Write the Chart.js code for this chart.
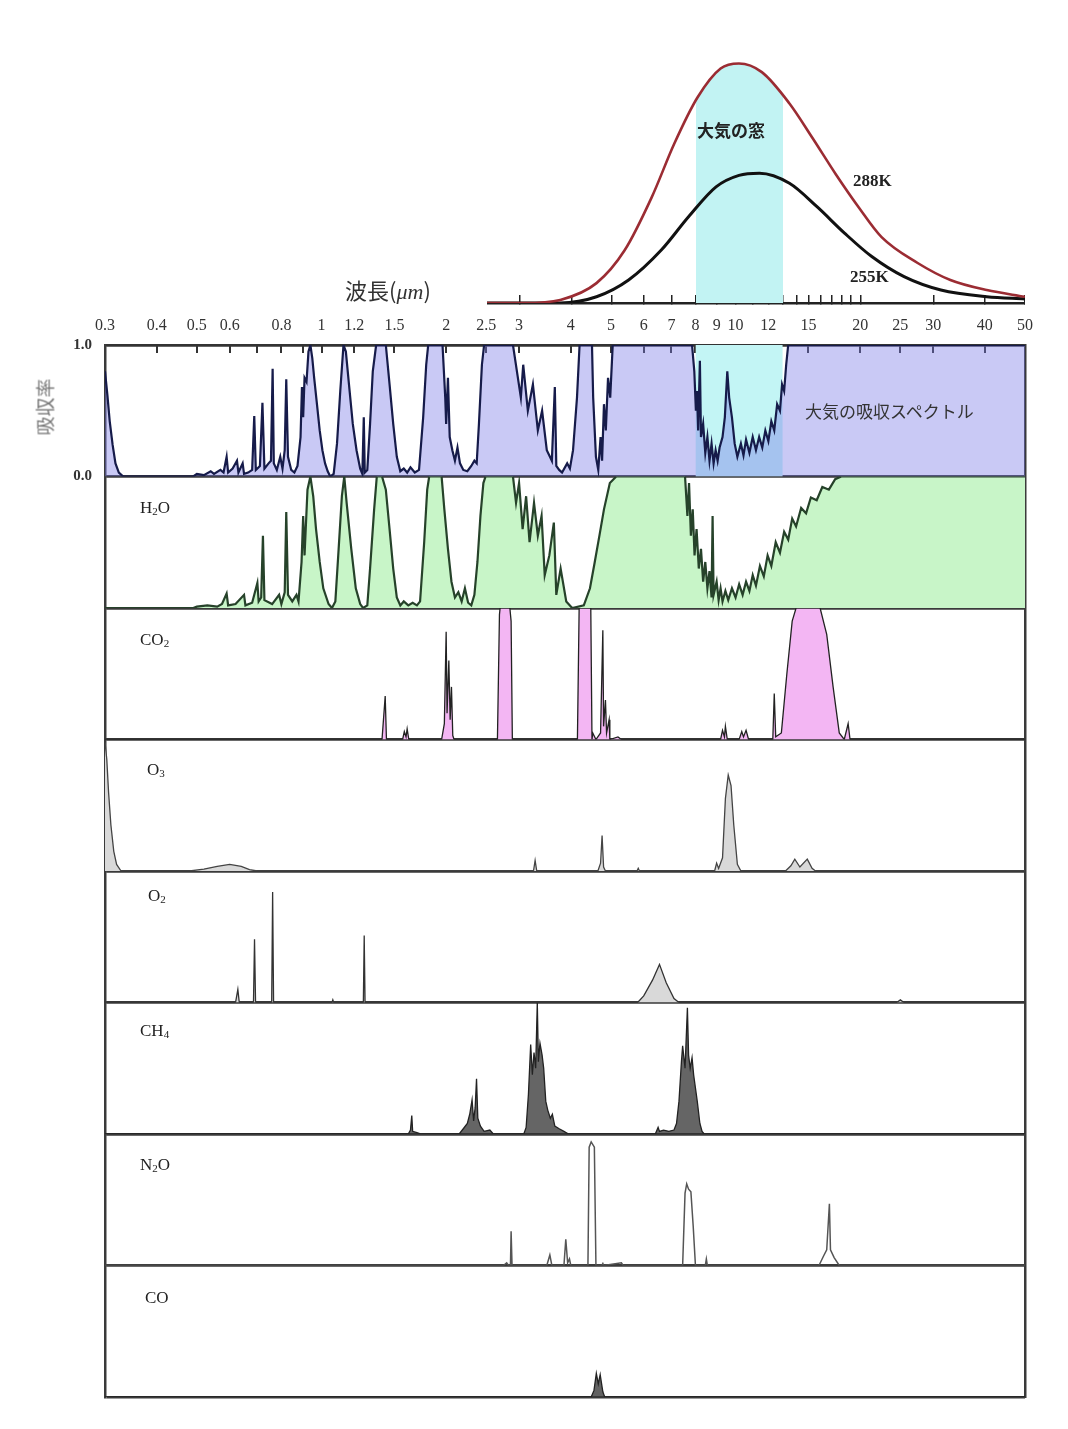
<!DOCTYPE html>
<html>
<head>
<meta charset="utf-8">
<script src="https://cdn.jsdelivr.net/npm/chart.js@4.4.1/dist/chart.umd.min.js"></script>
<style>
  body { margin: 0; background: #fff; width: 1068px; height: 1429px; position: relative; overflow: hidden; }
  canvas { position: absolute; }
  #planck { left: 487px; top: 30px; }
  #spectra { left: 0; top: 300px; }
  .txt { position: absolute; white-space: nowrap; color: #222; line-height: 1; }
  .jp { font-family: "Noto Sans CJK JP", sans-serif; }
  .serif { font-family: "Liberation Serif", "DejaVu Serif", serif; }
  .gas { font-family: "Liberation Serif", "DejaVu Serif", serif; font-size: 17px; color: #222; }
  .gas sub { font-size: 11px; vertical-align: -2px; }
</style>
</head>
<body>
<canvas id="planck" width="538" height="275"></canvas>
<canvas id="spectra" width="1068" height="1119"></canvas>

<div class="txt jp" style="left:345px;top:278px;font-size:22px;color:#333;">波長(<i class="serif">μm</i>)</div>
<div class="txt jp" style="left:697px;top:121px;font-size:17px;font-weight:bold;">大気の窓</div>
<div class="txt serif" style="left:853px;top:172px;font-size:17px;font-weight:bold;">288K</div>
<div class="txt serif" style="left:850px;top:268px;font-size:17px;font-weight:bold;">255K</div>
<div class="txt jp" style="left:805px;top:402px;font-size:17px;color:#333;">大気の吸収スペクトル</div>
<div class="txt jp" style="left:44px;top:407px;font-size:19px;color:#777;transform:translate(-50%,-50%) rotate(-90deg);">吸収率</div>

<div class="txt gas" style="left:140px;top:499px;">H<sub>2</sub>O</div>
<div class="txt gas" style="left:140px;top:631px;">CO<sub>2</sub></div>
<div class="txt gas" style="left:147px;top:761px;">O<sub>3</sub></div>
<div class="txt gas" style="left:148px;top:887px;">O<sub>2</sub></div>
<div class="txt gas" style="left:140px;top:1022px;">CH<sub>4</sub></div>
<div class="txt gas" style="left:140px;top:1156px;">N<sub>2</sub>O</div>
<div class="txt gas" style="left:145px;top:1289px;">CO</div>

<script>
// wavelength axis (µm)
const xTickValues = [0.3,0.4,0.5,0.6,0.7,0.8,0.9,1,1.2,1.5,2,2.5,3,4,5,6,7,8,9,10,12,15,20,25,30,40,50];
const xTickLabels = ['0.3','0.4','0.5','0.6','','0.8','','1','1.2','1.5','2','2.5','3','4','5','6','7','8','9','10','12','15','20','25','30','40','50'];
const planckTicks = [3,4,5,6,7,8,9,10,11,12,13,14,15,16,17,18,19,20,30,40,50];

// blackbody curves, relative radiance [µm, value]
const curve288 = [[2.5,0.0],[3.07,0.0],[3.76,0.013],[4.6,0.083],[5.38,0.22],[6.25,0.44],[7.1,0.667],[8.07,0.858],[9.18,0.979],[10.17,1.0],[11.55,0.964],[13.47,0.833],[15.3,0.69],[17.4,0.54],[19.8,0.40],[22.5,0.275],[27.5,0.167],[33.0,0.096],[40.4,0.054],[50,0.026]];
const curve255 = [[2.5,0.0],[3.76,0.0],[4.6,0.026],[5.5,0.096],[6.59,0.22],[7.68,0.36],[8.95,0.485],[10.17,0.533],[11.4,0.542],[13.47,0.50],[15.7,0.402],[18.3,0.292],[21.3,0.194],[25.5,0.11],[31.3,0.054],[40.4,0.026],[50,0.017]];
// atmospheric window 8-13 µm
const windowTop = [[8.0,0.85],[9.18,0.979],[10.17,1.0],[11.55,0.964],[13.0,0.868]];
const windowBand = [[8.0,1],[13.0,1]];

// absorption spectra [µm, absorptivity]
const atmosphere = [[0.300,0.80],[0.304,0.62],[0.308,0.42],[0.313,0.24],[0.318,0.10],[0.324,0.03],[0.332,0.0],
  [0.49,0.0],[0.50,0.02],[0.52,0.01],[0.54,0.04],[0.55,0.02],[0.57,0.05],[0.58,0.03],[0.59,0.15],[0.595,0.03],[0.61,0.06],[0.625,0.12],[0.63,0.03],[0.645,0.10],[0.65,0.02],[0.665,0.03],[0.68,0.05],[0.688,0.46],[0.694,0.05],[0.71,0.08],[0.72,0.56],[0.728,0.06],[0.745,0.10],[0.755,0.12],[0.762,0.82],[0.767,0.10],[0.78,0.05],[0.795,0.15],[0.805,0.06],[0.815,0.20],[0.822,0.74],[0.83,0.15],[0.845,0.05],[0.86,0.03],
  [0.875,0.08],[0.89,0.30],[0.897,0.68],[0.903,0.45],[0.91,0.75],[0.92,0.72],[0.93,0.95],[0.94,1.0],[0.95,0.9],[0.96,0.75],[0.975,0.55],[0.99,0.35],[1.005,0.2],[1.02,0.1],[1.035,0.04],[1.05,0.0],
  [1.07,0.02],[1.09,0.25],[1.11,0.65],[1.13,1.0],[1.145,0.95],[1.165,0.7],[1.19,0.4],[1.215,0.2],[1.24,0.06],[1.255,0.02],[1.265,0.45],[1.272,0.03],
  [1.29,0.05],[1.31,0.4],[1.33,0.8],[1.355,1.0],[1.43,1.0],[1.46,0.7],[1.49,0.4],[1.52,0.15],[1.55,0.04],[1.58,0.06],[1.61,0.03],[1.64,0.07],[1.68,0.03],
  [1.72,0.05],[1.76,0.45],[1.79,0.85],[1.81,1.0],[1.96,1.0],[1.99,0.6],[2.0,0.4],[2.02,0.75],[2.04,0.3],[2.07,0.2],[2.1,0.12],[2.13,0.22],[2.16,0.1],[2.2,0.05],[2.25,0.04],[2.3,0.08],[2.34,0.12],[2.37,0.1],[2.40,0.4],[2.44,0.85],[2.47,1.0],
  [2.90,1.0],[3.03,0.6],[3.07,0.85],[3.15,0.5],[3.24,0.7],[3.33,0.35],[3.41,0.5],[3.5,0.2],[3.6,0.12],[3.66,0.68],[3.69,0.08],[3.75,0.05],[3.81,0.03],[3.92,0.1],[3.98,0.06],[4.05,0.2],[4.14,0.6],[4.2,1.0],[4.5,1.0],[4.53,0.6],[4.6,0.15],[4.66,0.05],[4.72,0.3],[4.76,0.12],[4.81,0.55],[4.86,0.35],[4.92,0.75],[4.98,0.6],[5.05,1.0],
  [7.85,1.0],[7.95,0.8],[8.02,0.5],[8.07,0.65],[8.12,0.35],[8.2,0.88],[8.25,0.3],[8.35,0.4],[8.45,0.18],[8.55,0.3],[8.65,0.12],[8.75,0.25],[8.85,0.1],[8.95,0.2],[9.05,0.12],[9.15,0.22],[9.3,0.3],[9.42,0.45],[9.55,0.8],[9.65,0.6],[9.8,0.45],[9.95,0.25],[10.1,0.15],[10.3,0.25],[10.45,0.16],[10.6,0.28],[10.8,0.18],[11.0,0.3],[11.2,0.2],[11.4,0.3],[11.6,0.22],[11.8,0.35],[12.0,0.27],[12.2,0.42],[12.4,0.35],[12.6,0.55],[12.8,0.5],[12.95,0.7],[13.1,0.65],[13.25,0.85],[13.4,1.0],[50,1.0]];

const h2o = [[0.3,0.0],[0.49,0.0],[0.50,0.01],[0.53,0.02],[0.56,0.01],[0.575,0.03],[0.59,0.11],[0.595,0.02],[0.62,0.03],[0.65,0.10],[0.655,0.02],[0.68,0.04],[0.70,0.19],[0.705,0.05],[0.715,0.08],[0.722,0.55],[0.728,0.06],[0.76,0.03],[0.79,0.10],[0.80,0.03],[0.815,0.12],[0.822,0.73],[0.83,0.10],[0.85,0.05],[0.87,0.10],
  [0.88,0.05],[0.895,0.35],[0.903,0.70],[0.91,0.40],[0.925,0.90],[0.94,1.0],[0.955,0.85],[0.97,0.6],[0.99,0.35],[1.01,0.15],[1.04,0.03],[1.06,0.0],
  [1.08,0.05],[1.10,0.45],[1.12,0.85],[1.135,1.0],[1.15,0.8],[1.18,0.45],[1.21,0.15],[1.24,0.03],[1.26,0.0],
  [1.29,0.02],[1.31,0.3],[1.34,0.75],[1.36,1.0],[1.40,1.0],[1.43,0.9],[1.46,0.6],[1.49,0.3],[1.52,0.08],[1.55,0.02],[1.58,0.05],[1.62,0.02],[1.66,0.04],[1.70,0.02],
  [1.73,0.05],[1.77,0.5],[1.80,0.9],[1.82,1.0],[1.95,1.0],[1.98,0.75],[2.02,0.45],[2.06,0.2],[2.10,0.08],[2.14,0.12],[2.18,0.05],[2.22,0.15],[2.26,0.04],[2.30,0.02],[2.34,0.1],[2.38,0.35],[2.42,0.7],[2.46,0.95],[2.49,1.0],
  [2.9,1.0],[2.95,0.8],[3.0,0.95],[3.06,0.6],[3.12,0.85],[3.18,0.5],[3.26,0.8],[3.33,0.55],[3.4,0.7],[3.46,0.25],[3.55,0.4],[3.64,0.65],[3.69,0.1],[3.78,0.3],[3.9,0.05],[4.03,0.0],[4.3,0.02],[4.45,0.15],[4.57,0.35],[4.69,0.55],[4.81,0.75],[4.97,0.95],[5.15,1.0],
  [7.55,1.0],[7.65,0.7],[7.72,0.95],[7.8,0.55],[7.88,0.75],[7.96,0.4],[8.05,0.6],[8.15,0.3],[8.25,0.45],[8.35,0.2],[8.45,0.35],[8.55,0.15],[8.65,0.28],[8.75,0.08],[8.8,0.7],[8.85,0.1],[9.0,0.2],[9.1,0.06],[9.2,0.15],[9.3,0.05],[9.45,0.13],[9.6,0.06],[9.8,0.15],[10.0,0.08],[10.2,0.18],[10.4,0.1],[10.6,0.2],[10.8,0.13],[11.0,0.25],[11.2,0.17],[11.45,0.32],[11.7,0.24],[11.95,0.4],[12.2,0.32],[12.5,0.5],[12.8,0.42],[13.1,0.58],[13.4,0.52],[13.7,0.68],[14.0,0.62],[14.4,0.76],[14.8,0.72],[15.2,0.84],[15.7,0.82],[16.2,0.92],[16.8,0.9],[17.4,0.98],[18.0,1.0],[50,1.0]];

const co2 = [[0.3,0],[1.40,0],[1.425,0.33],[1.435,0],[1.57,0],[1.585,0.06],[1.60,0.02],[1.61,0.08],[1.625,0],[1.95,0],[1.98,0.12],[2.0,0.82],[2.01,0.2],[2.03,0.6],[2.045,0.15],[2.06,0.4],[2.075,0.03],[2.09,0],
  [2.66,0],[2.69,0.95],[2.70,1.0],[2.85,1.0],[2.87,0.9],[2.89,0],[4.15,0],[4.19,1.0],[4.47,1.0],[4.50,0],[4.52,0.05],[4.6,0],[4.72,0.05],[4.78,0.83],[4.80,0.1],[4.85,0.3],[4.88,0.05],[4.95,0.15],[4.97,0],[5.2,0.02],[5.3,0],
  [9.2,0],[9.3,0.07],[9.4,0.02],[9.45,0.1],[9.55,0],[10.2,0],[10.35,0.06],[10.45,0.02],[10.6,0.07],[10.75,0],[12.3,0],[12.4,0.35],[12.5,0.02],[12.9,0.05],[13.3,0.5],[13.7,0.9],[14.0,1.0],[16.0,1.0],[16.6,0.8],[17.2,0.4],[17.8,0.05],[18.3,0],[18.7,0.12],[18.9,0],[50,0]];

const o3 = [[0.300,0.98],[0.303,0.85],[0.306,0.6],[0.31,0.35],[0.315,0.15],[0.32,0.05],[0.328,0],[0.48,0],[0.52,0.015],[0.56,0.035],[0.6,0.05],[0.64,0.035],[0.67,0.01],[0.70,0],
  [3.25,0],[3.28,0.08],[3.31,0],[4.65,0],[4.72,0.06],[4.76,0.27],[4.8,0.03],[4.85,0],[5.78,0],[5.82,0.02],[5.86,0],
  [8.9,0],[9.0,0.06],[9.1,0.02],[9.3,0.1],[9.45,0.55],[9.6,0.73],[9.75,0.65],[9.9,0.35],[10.1,0.05],[10.3,0],[13.2,0],[13.6,0.04],[13.9,0.09],[14.3,0.03],[14.9,0.09],[15.3,0.02],[15.6,0],[50,0]];

const o2 = [[0.3,0],[0.62,0],[0.628,0.10],[0.633,0],[0.685,0],[0.689,0.48],[0.693,0],[0.758,0],[0.762,0.84],[0.766,0],[1.06,0],[1.065,0.02],[1.07,0],[1.262,0],[1.268,0.51],[1.274,0],
  [5.8,0],[6.0,0.05],[6.3,0.17],[6.55,0.29],[6.8,0.15],[7.1,0.03],[7.3,0],[24.5,0],[25,0.02],[25.5,0],[50,0]];

const ch4 = [[0.3,0],[1.62,0],[1.64,0.03],[1.652,0.14],[1.66,0.02],[1.70,0.01],[1.74,0],[2.15,0],[2.2,0.04],[2.25,0.08],[2.28,0.15],[2.31,0.26],[2.33,0.1],[2.35,0.2],[2.368,0.42],[2.385,0.12],[2.42,0.06],[2.47,0.02],[2.55,0.03],[2.6,0],
  [3.08,0],[3.12,0.05],[3.16,0.3],[3.2,0.68],[3.23,0.45],[3.26,0.62],[3.29,0.5],[3.32,1.0],[3.34,0.55],[3.37,0.69],[3.41,0.6],[3.44,0.5],[3.48,0.25],[3.52,0.18],[3.57,0.12],[3.61,0.15],[3.66,0.06],[3.75,0.04],[3.85,0.02],[3.95,0],
  [6.4,0],[6.5,0.05],[6.55,0.02],[6.7,0.03],[6.9,0.02],[7.1,0.03],[7.2,0.08],[7.3,0.25],[7.4,0.55],[7.45,0.67],[7.55,0.5],[7.65,0.96],[7.7,0.6],[7.77,0.5],[7.85,0.58],[7.92,0.45],[8.0,0.35],[8.08,0.25],[8.2,0.08],[8.3,0.02],[8.4,0],[50,0]];

const n2o = [[0.3,0],[2.75,0],[2.80,0.02],[2.83,0],[2.86,0],[2.87,0.26],[2.885,0],[3.5,0],[3.56,0.08],[3.6,0],[3.85,0],[3.89,0.2],[3.93,0.02],[3.97,0.05],[4.0,0],
  [4.40,0],[4.43,0.9],[4.48,0.94],[4.56,0.9],[4.6,0],[4.75,0],[4.78,0.015],[4.8,0],[5.3,0.02],[5.35,0],
  [7.45,0],[7.55,0.55],[7.62,0.62],[7.7,0.58],[7.8,0.56],[7.9,0.3],[8.0,0],[8.45,0],[8.5,0.05],[8.55,0],[15.9,0],[16.3,0.07],[16.6,0.12],[16.85,0.47],[16.95,0.12],[17.3,0.06],[17.8,0],[50,0]];

const co = [[0.3,0],[4.48,0],[4.55,0.05],[4.61,0.18],[4.66,0.1],[4.71,0.17],[4.78,0.04],[4.83,0],[50,0]];

const toXY = arr => arr.map(p => ({x: p[0], y: p[1]}));
const serif = '"Liberation Serif", "DejaVu Serif", serif';

// ---- top: blackbody curves ----
new Chart(document.getElementById('planck'), {
  type: 'line',
  data: {
    datasets: [
      { data: toXY(windowTop), fill: 'origin', backgroundColor: '#c2f3f3', borderWidth: 0, pointRadius: 0, cubicInterpolationMode: 'monotone', order: 5 },
      { data: toXY(curve288), borderColor: '#9b2c33', borderWidth: 2.6, pointRadius: 0, fill: false, cubicInterpolationMode: 'monotone', order: 1 },
      { data: toXY(curve255), borderColor: '#111', borderWidth: 3, pointRadius: 0, fill: false, cubicInterpolationMode: 'monotone', order: 2 }
    ]
  },
  options: {
    responsive: false,
    animation: false,
    layout: { padding: 0 },
    plugins: { legend: { display: false }, tooltip: { enabled: false } },
    scales: {
      x: {
        type: 'logarithmic', position: 'bottom', min: 2.5, max: 50, z: 1,
        afterBuildTicks: s => { s.ticks = planckTicks.map(v => ({ value: v })); },
        afterFit: s => { s.height = 2; },
        ticks: { display: false },
        grid: { drawOnChartArea: false, drawTicks: true, tickLength: -8, color: '#222', lineWidth: 1.5 },
        border: { display: true, color: '#222', width: 2.5 }
      },
      y: { display: false, min: 0, max: 1.14 }
    }
  }
});

// ---- bottom: stacked absorption panels ----
const series = [atmosphere, h2o, co2, o3, o2, ch4, n2o, co];
const looks = [
  { line: '#161b4a', fill: 'rgba(120,120,230,0.4)', w: 2.2 },
  { line: '#26422a', fill: '#c8f5c8', w: 2.2 },
  { line: '#222', fill: '#f3b6f3', w: 1.3 },
  { line: '#444', fill: '#d9d9d9', w: 1.3 },
  { line: '#333', fill: '#d9d9d9', w: 1.3 },
  { line: '#222', fill: 'rgba(50,50,50,0.75)', w: 1.3 },
  { line: '#555', fill: false, w: 1.5 },
  { line: '#222', fill: 'rgba(60,60,60,0.8)', w: 1.3 }
];

const datasets = [{
  data: toXY(windowBand), yAxisID: 'y0', fill: 'origin', backgroundColor: '#c3f5f5',
  borderWidth: 0, pointRadius: 0, order: 10
}];
series.forEach((s, i) => {
  datasets.push({
    data: toXY(s), yAxisID: 'y' + i, borderColor: looks[i].line, borderWidth: looks[i].w,
    backgroundColor: looks[i].fill || 'transparent', fill: looks[i].fill ? 'origin' : false,
    pointRadius: 0, tension: 0, order: 1
  });
});

const scales = {
  x: {
    type: 'logarithmic', position: 'top', min: 0.3, max: 50, z: 2,
    afterBuildTicks: s => { s.ticks = xTickValues.map(v => ({ value: v })); },
    afterFit: s => { s.height = 45; },
    ticks: { autoSkip: false, maxRotation: 0, padding: 18, color: '#333', font: { family: serif, size: 16 },
             callback: (v, i) => xTickLabels[i] },
    grid: { drawOnChartArea: false, drawTicks: true, tickLength: -8, color: '#333', lineWidth: 2 },
    border: { display: true, color: '#333', width: 2.5 }
  },
  yR: {
    axis: 'y', position: 'right', min: 0, max: 1, z: 2,
    afterFit: s => { s.width = 0; },
    ticks: { display: false }, grid: { display: false },
    border: { display: true, color: '#3a3a3a', width: 2.5 }
  }
};
// stacked axes are laid out bottom-up, so the lowest panel is defined first
for (let i = series.length - 1; i >= 0; i--) {
  scales['y' + i] = {
    axis: 'y', type: 'linear', position: 'left', stack: 'panels', stackWeight: 1, offset: false,
    min: 0, max: 1, z: 2,
    afterBuildTicks: sc => { sc.ticks = [{ value: 0 }, { value: 1 }]; },
    afterFit: sc => { sc.width = 105; },
    ticks: { display: i === 0, padding: 13, color: '#333', font: { family: serif, size: 15, weight: 'bold' },
             callback: v => v.toFixed(1) },
    grid: { display: true, drawOnChartArea: true, drawTicks: false, color: '#3a3a3a', lineWidth: 2.5 },
    border: { display: true, color: '#3a3a3a', width: 2.5 }
  };
}

new Chart(document.getElementById('spectra'), {
  type: 'line',
  data: { datasets },
  options: {
    responsive: false,
    animation: false,
    layout: { padding: { top: 0, left: 0, right: 43, bottom: 3 } },
    plugins: { legend: { display: false }, tooltip: { enabled: false } },
    scales
  }
});
</script>
</body>
</html>
